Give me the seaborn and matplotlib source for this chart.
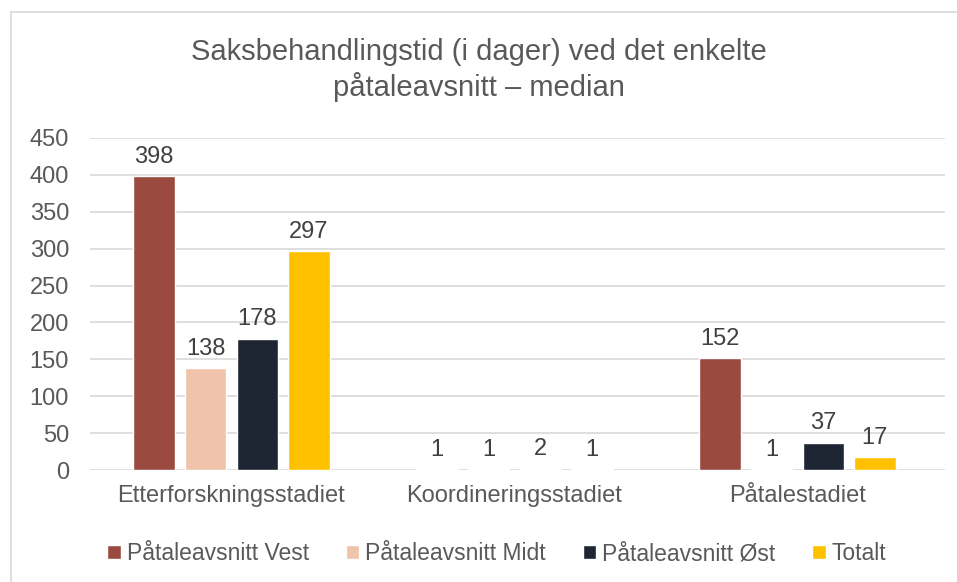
import pandas as pd
import seaborn as sns
from matplotlib import pyplot as plt
from matplotlib.patches import Rectangle

# data
stages = ["Etterforskningsstadiet", "Koordineringsstadiet", "Påtalestadiet"]
vest = [398, 1, 152]
midt = [138, 1, 1]
ost = [178, 2, 37]
totalt = [297, 1, 17]
series = ["Påtaleavsnitt Vest", "Påtaleavsnitt Midt", "Påtaleavsnitt Øst", "Totalt"]
colors = ["#9B4A3F", "#F0C4AA", "#1F2633", "#FFC000"]

rows = []
for name, vals in zip(series, [vest, midt, ost, totalt]):
    for st, v in zip(stages, vals):
        rows.append({"stadie": st, "avsnitt": name, "dager": v})
df = pd.DataFrame(rows)

sns.set_theme(style="white")
plt.rcParams['font.family'] = ['Liberation Sans', 'DejaVu Sans']
txt = "#595959"

fig = plt.figure(figsize=(9.57, 5.82), dpi=100)
ax = fig.add_axes([0.094, 0.1924, 0.893, 0.5706])

sns.barplot(data=df, x="stadie", y="dager", hue="avsnitt", palette=colors,
            width=0.73, gap=0.2, ax=ax, saturation=1, legend=True)

for cont in ax.containers:
    ax.bar_label(cont, padding=6, fontsize=17, color="#404040")

ax.set_ylim(0, 450)
ax.set_xlim(-0.5, 2.52)
ax.set_yticks(range(0, 451, 50))
ax.yaxis.grid(True, color="#d9d9d9", linewidth=1.2)
ax.set_axisbelow(True)
for s in ax.spines.values():
    s.set_visible(False)
ax.tick_params(axis="y", labelsize=17, labelcolor=txt, length=0, pad=15)
ax.tick_params(axis="x", labelsize=17, labelcolor=txt, length=0, pad=11)
ax.set_xlabel("")
ax.set_ylabel("")

ax.legend(loc="upper center", bbox_to_anchor=(0.476, -0.155), ncol=4, frameon=False,
          fontsize=16.5, labelcolor=txt, handlelength=0.6, handleheight=0.6,
          handletextpad=0.25, columnspacing=1.6)

fig.text(0.5, 0.88, "Saksbehandlingstid (i dager) ved det enkelte\npåtaleavsnitt – median",
         ha="center", va="center", fontsize=21, color=txt, linespacing=1.25)

fig.patches.append(Rectangle((0.011, -0.01), 1.0, 0.99, transform=fig.transFigure,
                             fill=False, edgecolor="#d9d9d9", linewidth=1.2))

fig.savefig("out.png", dpi=100)
